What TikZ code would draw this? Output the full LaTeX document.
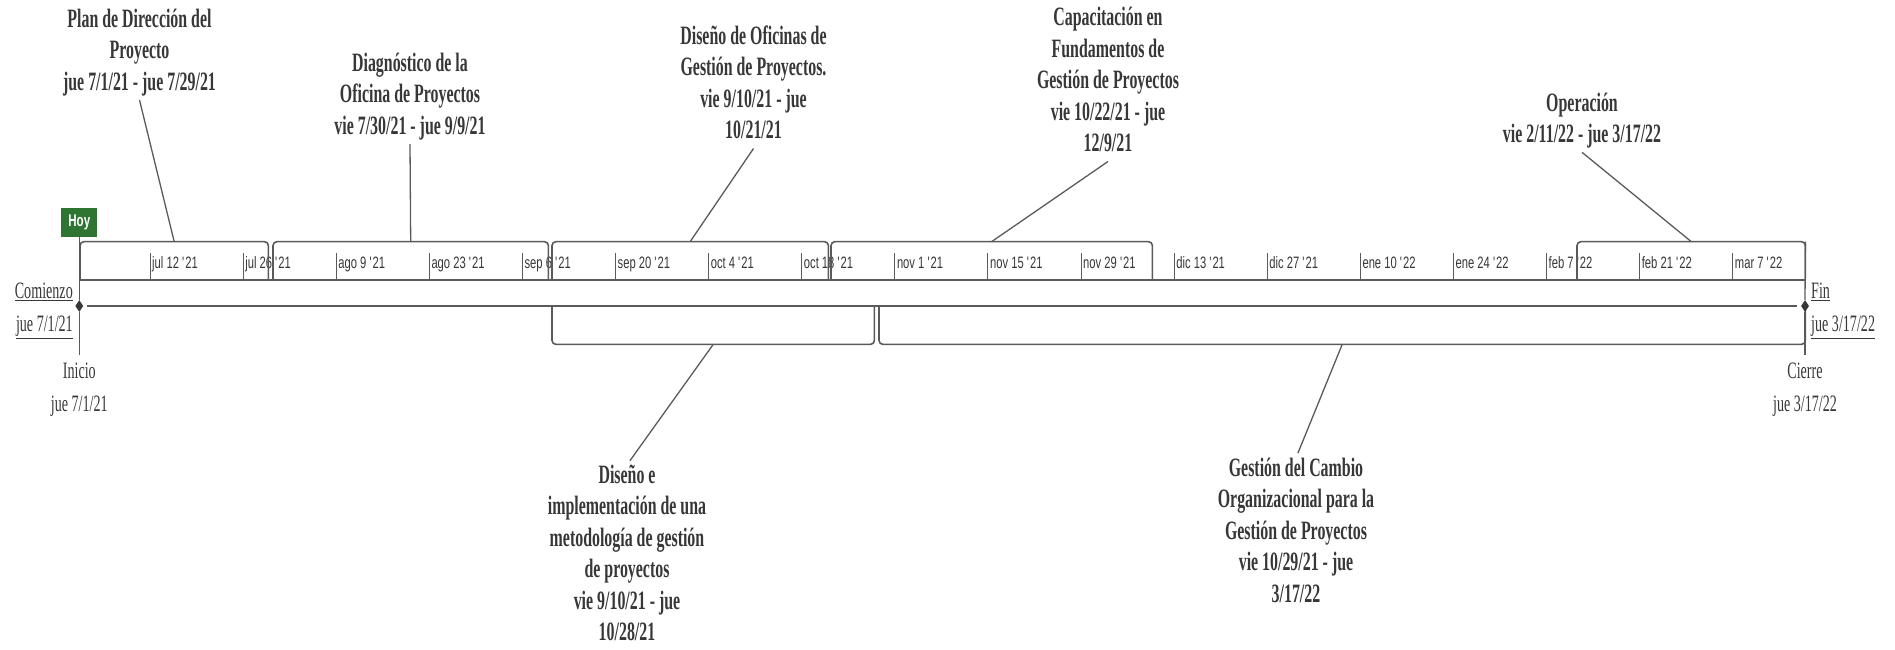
\documentclass[tikz,border=0pt]{standalone}
\usepackage{fontspec}
\usetikzlibrary{shapes, positioning}
\newfontfamily\taskfont{Liberation Serif}[FakeStretch=0.6]
\newfontfamily\tickfont{Liberation Sans}[FakeStretch=0.68]
\definecolor{hoygreen}{RGB}{47,117,50}
\definecolor{linegray}{RGB}{90,90,90}
\definecolor{textgray}{RGB}{55,55,55}

\begin{document}
\begin{tikzpicture}[x=1pt, y=-1pt,
    task/.style={rectangle, draw=none, fill=none, align=center, inner sep=0pt, text=textgray,
        font=\taskfont\bfseries\fontsize{26.5}{31.5}\selectfont},
    tasktop/.style={task, anchor=south, execute at end node=\strut},
    taskbottom/.style={task, anchor=north, execute at begin node=\strut},
    msinfo/.style={rectangle, draw=none, inner sep=0pt, text=textgray,
        font=\taskfont\fontsize{23.5}{33}\selectfont, execute at begin node=\strut},
    bar/.style={rectangle, draw=none, inner sep=0pt, minimum height=38pt},
    barline/.style={draw=linegray, line width=1.6pt, rounded corners=4pt},
    link/.style={draw=linegray, line width=1.3pt},
    ticklabel/.style={inner sep=0pt, anchor=base west, text=textgray,
        font=\tickfont\fontsize{16.5}{19}\selectfont},
    diam/.style={diamond, draw=none, fill=textgray, inner sep=0pt,
        minimum width=8pt, minimum height=12pt}
]
\useasboundingbox (0,0) rectangle (1895,649);

% timescale
\foreach \lbl/\yr [count=\i from 0] in {jul 12/21, jul 26/21, ago 9/21, ago 23/21, sep 6/21,
    sep 20/21, oct 4/21, oct 18/21, nov 1/21, nov 15/21, nov 29/21, dic 13/21, dic 27/21,
    ene 10/22, ene 24/22, feb 7/22, feb 21/22, mar 7/22}{
    \draw[linegray, line width=1pt] ({150+93.1*\i},253) -- ({150+93.1*\i},280);
    \node (t\i) [ticklabel] at ({152+93.1*\i},268.5) {\lbl\ \textquotesingle\yr};
}

% bars above and below the line
\node (b1) [bar, minimum width=188pt, anchor=south west] at (80,280) {};
\node (b2) [bar, minimum width=275pt, anchor=south west] at (273,280) {};
\node (b3) [bar, minimum width=276pt, anchor=south west] at (552,280) {};
\node (b4) [bar, minimum width=321pt, anchor=south west] at (831,280) {};
\node (b5) [bar, minimum width=228pt, anchor=south west] at (1577,280) {};
\node (c1) [bar, minimum width=322pt, anchor=north west] at (552,306) {};
\node (c2) [bar, minimum width=926pt, anchor=north west] at (879,306) {};
\foreach \n in {b1,b2,b3,b4,b5}
    \draw[barline] (\n.south west) -- (\n.north west) -- (\n.north east) -- (\n.south east);
\foreach \n in {c1,c2}
    \draw[barline] (\n.north west) -- (\n.south west) -- (\n.south east) -- (\n.north east);

\draw[linegray, line width=2pt] (79,280) -- (1805,280);

% milestones
\node (hoy) [rectangle, fill=hoygreen, text=white, inner sep=0pt, minimum width=36pt,
    minimum height=29pt, font=\tickfont\bfseries\fontsize{17}{20}\selectfont] at (79.3,222.5) {Hoy};
\node (ms0) [diam] at (79.3,306) {};
\node (ms1) [diam] at (1805,306) {};
\draw[hoygreen, line width=1.3pt] (hoy.south) -- (ms0.north);
\draw[linegray, line width=2.4pt] ([xshift=8pt]ms0.center) -- ([xshift=-8pt]ms1.center);

\node (comienzo) [msinfo, align=right, anchor=north east] at (73,283)
    {\underline{Comienzo}\\\underline{jue 7/1/21}};
\node (fin) [msinfo, align=left, anchor=north west] at (1811,283)
    {\underline{Fin}\\\underline{jue 3/17/22}};
\node (inicio) [msinfo, align=center, anchor=north] at (79.3,363) {Inicio\\jue 7/1/21};
\node (cierre) [msinfo, align=center, anchor=north] at (1805,363) {Cierre\\jue 3/17/22};
\draw[link] (ms0.south) -- ([yshift=8pt]inicio.north);
\draw[link] (b5.north east) -- (ms1.north);
\draw[link] (ms1.south) -- ([yshift=8pt]cierre.north);

% tasks
\node (plan) [tasktop] at (139.5,100)
    {Plan de Dirección del\\Proyecto\\jue 7/1/21 - jue 7/29/21};
\node (diag) [tasktop] at (410,144)
    {Diagnóstico de la\\Oficina de Proyectos\\vie 7/30/21 - jue 9/9/21};
\node (ofic) [tasktop] at (753.5,148.5)
    {Diseño de Oficinas de\\Gestión de Proyectos.\\vie 9/10/21 - jue\\10/21/21};
\node (capac) [tasktop] at (1108,161.5)
    {Capacitación en\\Fundamentos de\\Gestión de Proyectos\\vie 10/22/21 - jue\\12/9/21};
\node (oper) [tasktop] at (1582,152.3)
    {Operación\\vie 2/11/22 - jue 3/17/22};
\node (metod) [taskbottom] at (627,464.8)
    {Diseño e\\implementación de una\\metodología de gestión\\de proyectos\\vie 9/10/21 - jue\\10/28/21};
\node (cambio) [taskbottom] at (1296,457.8)
    {Gestión del Cambio\\Organizacional para la\\Gestión de Proyectos\\vie 10/29/21 - jue\\3/17/22};

\draw[link] (plan.south) -- (b1.north);
\draw[link] (diag.south) -- (b2.north);
\draw[link] (ofic.south) -- (b3.north);
\draw[link] (capac.south) -- (b4.north);
\draw[link] (oper.south) -- (b5.north);
\draw[link, shorten >=5pt] (c1.south) -- (metod.north);
\draw[link, shorten >=5pt] (c2.south) -- (cambio.north);

\end{tikzpicture}
\end{document}
